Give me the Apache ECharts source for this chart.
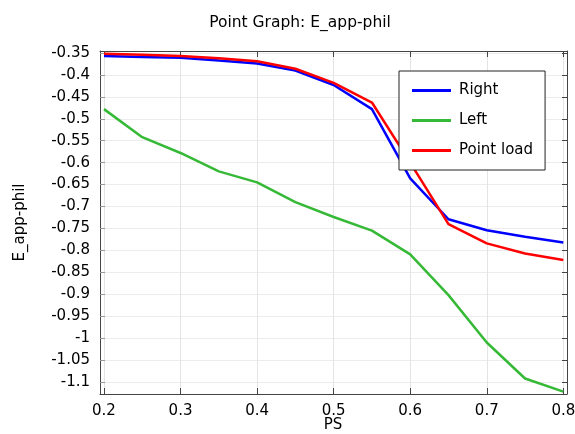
<!DOCTYPE html>
<html>
<head>
<meta charset="utf-8">
<script src="https://cdn.jsdelivr.net/npm/echarts@6/dist/echarts.min.js"></script>
<style>
  html, body { margin: 0; padding: 0; background: #fff; }
  #chart { width: 575px; height: 434px; }
</style>
</head>
<body>
<div id="chart"></div>
<script>
const ps = [0.2, 0.25, 0.3, 0.35, 0.4, 0.45, 0.5, 0.55, 0.6, 0.65, 0.7, 0.75, 0.8]
const right = [-0.357, -0.359, -0.361, -0.367, -0.374, -0.39, -0.423, -0.478, -0.636, -0.729, -0.754, -0.769, -0.782]
const left = [-0.478, -0.542, -0.578, -0.62, -0.645, -0.69, -0.724, -0.755, -0.809, -0.902, -1.01, -1.092, -1.122]
const pointLoad = [-0.352, -0.354, -0.357, -0.362, -0.369, -0.386, -0.418, -0.463, -0.6, -0.74, -0.784, -0.807, -0.822]
const xTicks = [0.2, 0.3, 0.4, 0.5, 0.6, 0.7, 0.8]
const yTicks = [-0.35, -0.4, -0.45, -0.5, -0.55, -0.6, -0.65, -0.7, -0.75, -0.8, -0.85, -0.9, -0.95, -1, -1.05, -1.1]

const font = 'DejaVu Sans, sans-serif'
const pairs = ys => ps.map((x, i) => [x, ys[i]])
const lineIcon = 'path://M0,0 L40,0 L40,3 L0,3 Z'

const chart = echarts.init(document.getElementById('chart'), null, { renderer: 'canvas' })

const frameAxis = (extra) => Object.assign({
  axisLine: { show: true, onZero: false, lineStyle: { color: '#444', width: 1 } },
  splitLine: { show: false },
  axisLabel: { show: false },
}, extra)

chart.setOption({
  animation: false,
  title: [{
    text: 'Point Graph: E_app-phil',
    left: 295, top: 10, textAlign: 'center',
    textStyle: { fontFamily: font, fontSize: 15.5, fontWeight: 'normal', color: '#000' },
  }, {
    // x axis name, placed by hand so it sits right under the tick labels
    text: 'PS',
    left: 333, top: 418, textAlign: 'center', padding: 0,
    textStyle: { fontFamily: font, fontSize: 15, fontWeight: 'normal', color: '#000' },
  }],
  legend: {
    orient: 'vertical',
    left: 399, top: 71,
    padding: [12, 12, 12, 13],
    itemGap: 15,
    itemWidth: 39,
    itemHeight: 14,
    backgroundColor: '#fff',
    borderColor: '#222',
    borderWidth: 1,
    textStyle: { fontFamily: font, fontSize: 15, color: '#000', padding: [0, 0, 0, 3] },
    data: [
      { name: 'Right', icon: lineIcon },
      { name: 'Left', icon: lineIcon },
      { name: 'Point load', icon: lineIcon },
    ],
  },
  grid: { left: 100, right: 8, top: 51, bottom: 40, outerBoundsMode: 'none', containLabel: false },
  xAxis: [
    frameAxis({
      type: 'value', min: 0.1948, max: 0.8048,
      axisTick: { show: true, inside: true, length: 6, customValues: xTicks, lineStyle: { color: '#444' } },
      axisLabel: { show: true, margin: 10, customValues: xTicks, fontFamily: font, fontSize: 15, color: '#000',
        formatter: v => String(Math.round(v * 10) / 10) },
      splitLine: { show: true, lineStyle: { color: '#e4e4e4', width: 1 } },
    }),
    frameAxis({
      type: 'value', position: 'top', min: 0.1948, max: 0.8048,
      axisTick: { show: true, inside: true, length: 6, customValues: xTicks, lineStyle: { color: '#444' } },
    }),
  ],
  yAxis: [
    frameAxis({
      type: 'value', min: -1.1274, max: -0.3455,
      name: 'E_app-phil', nameLocation: 'middle', nameGap: 72, nameMoveOverlap: false,
      nameTextStyle: { fontFamily: font, fontSize: 15, color: '#000' },
      axisTick: { show: true, inside: true, length: 5, customValues: yTicks, lineStyle: { color: '#999' } },
      axisLabel: { show: true, margin: 10, customValues: yTicks, fontFamily: font, fontSize: 15, color: '#000',
        formatter: v => String(Math.round(v * 100) / 100) },
      splitLine: { show: true, lineStyle: { color: '#ececec', width: 1 } },
    }),
    frameAxis({
      type: 'value', position: 'right', min: -1.1274, max: -0.3455,
      axisTick: { show: true, inside: true, length: 5, customValues: yTicks, lineStyle: { color: '#444' } },
    }),
  ],
  series: [
    { name: 'Right', type: 'line', data: pairs(right), symbol: 'none', color: '#0000ff', lineStyle: { width: 2.5 } },
    { name: 'Left', type: 'line', data: pairs(left), symbol: 'none', color: '#36b936', lineStyle: { width: 2.5 } },
    { name: 'Point load', type: 'line', data: pairs(pointLoad), symbol: 'none', color: '#ff0000', lineStyle: { width: 2.5 } },
  ],
})
</script>
</body>
</html>
